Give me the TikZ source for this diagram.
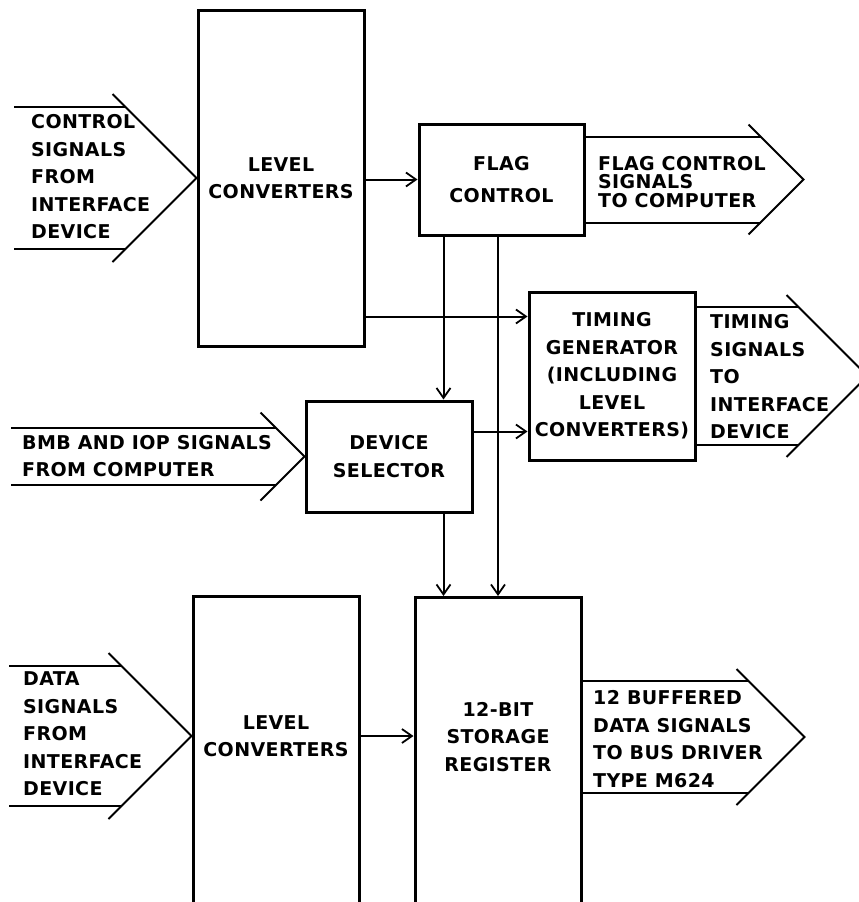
\documentclass[tikz,border=0pt]{standalone}
\usepackage{fontspec}
\setmainfont[LetterSpace=2]{DejaVu Sans}
\usetikzlibrary{arrows.meta}

\begin{document}
\begin{tikzpicture}[x=1pt, y=-1pt, >={Straight Barb[length=10pt,width=14pt,line width=1.8pt]},
    font=\fontsize{19}{27.5}\selectfont\bfseries,
    box/.style={draw, line width=3pt, minimum width=166pt, align=center, inner sep=0pt},
    conn/.style={line width=2pt},
    sig/.style={line width=2pt},
    lbl/.style={align=left, anchor=west, inner sep=0pt}]
    \clip (0,0) rectangle (859,902);

    % blocks
    \node[box, minimum height=336pt] (lc1) at (281,178) {LEVEL\\CONVERTERS};
    \node[box, minimum height=111pt, minimum width=165pt] (flag) at (501.5,179.5) {FLAG\\[4pt]CONTROL};
    \node[box, minimum height=168pt] (timing) at (612,376) {TIMING\\GENERATOR\\(INCLUDING\\LEVEL\\CONVERTERS)};
    \node[box, minimum height=111pt] (ds) at (389,456.5) {DEVICE\\SELECTOR};
    \node[box, minimum height=400pt, anchor=north] (lc2) at (276,595) {};
    \node[align=center] (lc2txt) at (276,736) {LEVEL\\CONVERTERS};
    \node[box, minimum height=400pt, anchor=north] (stor) at (498,596) {};
    \node[align=center] (stortxt) at (498,737) {12-BIT\\STORAGE\\REGISTER};

    % connections
    \coordinate (tin1) at ([yshift=-26pt]timing.north west);
    \coordinate (tin2) at ([yshift=30pt]timing.south west);
    \coordinate (fa) at ([xshift=26pt]flag.south west);
    \draw[conn,->] (lc1.east |- flag.west) -- (flag.west);
    \draw[conn,->] (lc1.east |- tin1) -- (tin1);
    \draw[conn,->] (ds.east |- tin2) -- (tin2);
    \draw[conn,->] (fa) -- (fa |- ds.north);
    \draw[conn,->] (flag.south -| stor.north) -- (stor.north);
    \draw[conn,->] (ds.south -| fa) -- (fa |- stor.north);
    \draw[conn,->] (lc2.east |- lc2txt) -- (stor.west |- lc2txt);

    % control signals in
    \draw[sig] ([shift={(-71,-71)}]lc1.west) -- ++(-112,0);
    \draw[sig] ([shift={(-71,71)}]lc1.west) -- ++(-112,0);
    \draw[sig] ([shift={(-84,-84)}]lc1.west) -- (lc1.west) -- ++(-84,84);
    \node[lbl] (ctrlin) at (31,177) {CONTROL\\SIGNALS\\FROM\\INTERFACE\\DEVICE};

    % BMB and IOP in
    \draw[sig] ([shift={(-28.5,-28.5)}]ds.west) -- ++(-265,0);
    \draw[sig] ([shift={(-28.5,28.5)}]ds.west) -- ++(-265,0);
    \draw[sig] ([shift={(-44,-44)}]ds.west) -- (ds.west) -- ++(-44,44);
    \node[lbl] (bmbin) at (22,456) {BMB AND IOP SIGNALS\\FROM COMPUTER};

    % data signals in
    \coordinate (dtip) at (lc2.west |- lc2txt);
    \draw[sig] ([shift={(-70,-70)}]dtip) -- ++(-113,0);
    \draw[sig] ([shift={(-70,70)}]dtip) -- ++(-113,0);
    \draw[sig] ([shift={(-83,-83)}]dtip) -- (dtip) -- ++(-83,83);
    \node[lbl] (datain) at (23,734) {DATA\\SIGNALS\\FROM\\INTERFACE\\DEVICE};

    % flag control out
    \coordinate (ftip) at ([xshift=218pt]flag.east);
    \draw[sig] ([yshift=43pt]flag.east) -- ++(175,0);
    \draw[sig] ([yshift=-43pt]flag.east) -- ++(175,0);
    \draw[sig] ([shift={(-55,-55)}]ftip) -- (ftip) -- ++(-55,55);
    \node[lbl, font=\fontsize{19}{18.5}\selectfont\bfseries] (flagout) at (598,182) {FLAG CONTROL\\SIGNALS\\TO COMPUTER};

    % timing out
    \coordinate (ttip) at ([xshift=171pt]timing.east);
    \draw[sig] ([yshift=69pt]timing.east) -- ++(102,0);
    \draw[sig] ([yshift=-69pt]timing.east) -- ++(102,0);
    \draw[sig] ([shift={(-81,-81)}]ttip) -- (ttip) -- ++(-81,81);
    \node[lbl] (timout) at (710,377) {TIMING\\SIGNALS\\TO\\INTERFACE\\DEVICE};

    % buffered data out
    \coordinate (sout) at (stor.east |- stortxt);
    \coordinate (stip) at ([xshift=222pt]sout);
    \draw[sig] ([yshift=56pt]sout) -- ++(166,0);
    \draw[sig] ([yshift=-56pt]sout) -- ++(166,0);
    \draw[sig] ([shift={(-68,-68)}]stip) -- (stip) -- ++(-68,68);
    \node[lbl] (storout) at (593,739) {12 BUFFERED\\DATA SIGNALS\\TO BUS DRIVER\\TYPE M624};
\end{tikzpicture}
\end{document}
